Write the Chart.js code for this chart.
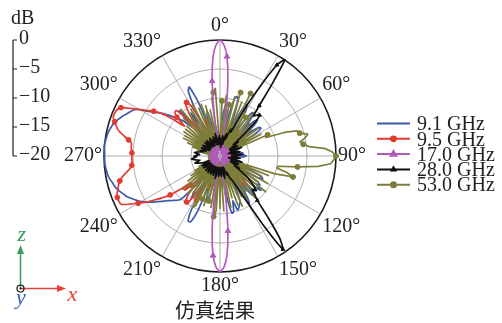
<!DOCTYPE html>
<html>
<head>
<meta charset="utf-8">
<script src="https://cdn.jsdelivr.net/npm/chart.js@4.4.1/dist/chart.umd.min.js"></script>
<style>
  html, body { margin: 0; padding: 0; background: #fff; }
  #wrap { width: 502px; height: 323px; }
</style>
</head>
<body>
<div id="wrap"><canvas id="patternChart" width="502" height="323"></canvas></div>
<script>
// azimuth in degrees, one sample every 2 degrees, clockwise from the top
const angles = Array.from({ length: 180 }, (_, i) => i * 2);

const seriesNames = ['9.1 GHz', '9.5 GHz', '17.0 GHz', '28.0 GHz', '53.0 GHz'];
const dbTicks = [0, -5, -10, -15, -20];

// normalised gain in dB, each row covers 30 degrees
const gain91 = [
  -17, -15, -13, -11.5, -12, -15, -13, -10, -9.3, -10, -14, -17, -13, -10.5, -10,
  -12, -16, -13, -11, -10.5, -12, -15, -12, -11, -12, -16, -13, -11.6, -11.5, -13,
  -17, -18, -17, -18, -18.5, -18, -18.5, -19, -18, -17, -16.5, -16, -16.5, -17, -16,
  -15.5, -16, -17, -17, -18, -18, -18.5, -17, -16, -17, -18, -17, -15, -12.5, -11.6,
  -12.5, -16, -13, -11.5, -12, -10.8, -12.5, -16, -15, -12, -11, -13, -17, -12, -10.4,
  -12, -17, -14, -11.5, -11, -10.5, -10.2, -12, -10.2, -9.9, -12, -16, -18, -18.5, -18,
  -18, -18, -19, -17, -15, -15, -17, -14, -12, -13, -15, -10, -7.6, -7.5, -9.5,
  -15, -13, -11, -13, -16, -13, -10, -9.4, -9, -8.5, -8, -7.3, -6.6, -5.8, -5.0,
  -4.3, -3.7, -3.2, -2.6, -2.2, -1.8, -1.4, -1.1, -0.9, -0.6, -0.4, -0.3, -0.2, -0.1, -0.1,
  -0.1, -0.1, 0, 0, -0.1, -0.2, -0.3, -0.5, -0.7, -1.0, -1.4, -1.8, -2.3, -2.7, -3.1,
  -4.0, -5.5, -6.6, -7.4, -8.5, -9.5, -10.5, -11.5, -13, -9.5, -12, -17, -14, -11, -14,
  -17, -11, -7.5, -7, -10, -16, -13, -12, -15, -18, -16, -15, -17, -19, -18
];
const gain95 = [
  -19, -18, -17, -18, -16, -17, -15, -16, -18, -15, -14.5, -16, -18, -16, -15,
  -14.5, -15, -14.5, -16, -18, -16, -15, -17, -18, -17, -16, -17, -18, -19, -18,
  -18, -19, -18.5, -19, -18, -17.5, -18, -19, -19, -18.5, -18, -17, -17.5, -18, -18.5,
  -18, -17.5, -17, -18, -18.5, -19, -18, -17, -18, -19, -18, -17, -16, -17, -18,
  -17, -16, -15, -16, -18, -16, -15, -14, -14.5, -13.5, -13.2, -14, -16, -18, -17,
  -16, -15, -16, -18, -17, -16, -17, -18, -17, -16, -17, -18, -19, -18, -19,
  -19, -18, -19, -17, -16, -17, -18, -16, -18, -16, -14, -15, -17, -13, -11.4,
  -12, -14, -10.5, -10.2, -10.5, -12, -16, -13, -11.5, -13, -11, -9.1, -7.8, -6.5, -5.0,
  -3.7, -2.3, -1.0, -0.9, -0.9, -1.1, -1.5, -1.8, -2.2, -2.8, -3.6, -4.3, -4.7, -4.8, -4.8,
  -4.8, -4.8, -4.7, -4.6, -4.6, -4.0, -3.0, -2.0, -1.4, -0.9, -0.4, -0.4, -0.5, -1.0, -2.5,
  -4.0, -5.2, -6.2, -7.5, -9.5, -12, -10, -9.2, -9.1, -11, -15, -13, -11, -9.5, -9.1,
  -10, -14, -17, -15, -13, -16, -18, -17, -16, -18, -19, -18, -17, -18, -19
];
const gain170 = [
  0, -0.8, -2.8, -7, -13, -18, -19, -19.5, -19, -18, -19, -19.5, -19, -18.5, -19,
  -19.5, -19, -18, -19, -19.5, -19, -18.5, -19, -19.5, -19, -18, -19, -19.5, -19, -18.5,
  -19, -19.5, -19, -18, -18.5, -19, -19.5, -19, -18.5, -19, -19.5, -19, -18, -19, -19.5,
  -19.5, -19, -18.5, -19, -19.5, -19, -18, -19, -19.5, -19, -18.5, -19, -19.5, -19, -18,
  -19, -19.5, -19, -18.5, -19, -19.5, -19, -18, -19, -19.5, -19, -18.5, -19, -19.5, -19,
  -18.5, -19, -19.5, -19, -18, -19, -19.5, -19, -18, -17, -18, -13, -7, -2.8, -0.8,
  -0.1, -0.8, -2.8, -7, -13, -18, -17, -18.5, -19, -19.5, -19, -18.5, -19, -19.5, -19,
  -18.5, -19, -19.5, -19, -18, -19, -19.5, -19, -18.5, -19, -19.5, -19, -18, -19, -19.5,
  -19, -18.5, -19, -19.5, -19, -18, -19, -19.5, -19, -18.5, -19, -19.5, -19, -18, -19,
  -19.5, -19, -18.5, -19, -19.5, -19, -18, -19, -19.5, -19, -18.5, -19, -19.5, -19, -18,
  -19, -19.5, -19, -18.5, -19, -19.5, -19, -18, -19, -19.5, -19, -18.5, -19, -19.5, -19,
  -18.5, -19, -19.5, -19, -18, -17, -18, -19, -18, -17, -18, -13, -7, -2.8, -0.8
];
const gain280 = [
  -18, -17, -18.5, -17.5, -16.5, -17, -18, -17, -16, -17, -16, -15, -15.5, -14, -10,
  -6, -1.5, 0, -5, -9, -11, -10.5, -10.2, -11.5, -15, -17, -16, -17.5, -18, -17,
  -16.5, -17, -18, -17.5, -16, -17, -18, -18.5, -17, -16.5, -17.5, -18, -17, -16, -17,
  -17.5, -18, -17, -16.5, -17, -18, -18.5, -17, -16, -17, -18, -17.5, -16.5, -17, -18,
  -17, -16, -17, -15.5, -14, -13, -12, -11.6, -12, -11, -10, -6.5, -2.5, -0.6, -6,
  -12, -14.5, -15.5, -16, -17, -16.5, -17.5, -18, -17, -16, -17, -18, -17.5, -16.5, -17,
  -18, -17, -16.5, -17.5, -18, -17, -16, -17, -18, -17.5, -16.5, -17, -18, -17, -16.5,
  -17, -18, -17.5, -16.5, -17, -18, -17, -16.5, -17, -18, -17.5, -17, -16.5, -17, -18,
  -17, -16.5, -17, -18, -17, -16.5, -16, -15.5, -16, -16.5, -16, -15.5, -15, -15.5, -16,
  -15.5, -16, -16.5, -16, -15.5, -16, -16.5, -17, -16.5, -17, -17.5, -17, -16.5, -17, -18,
  -17, -16.5, -17, -18, -17.5, -17, -16.5, -17, -18, -17, -16.5, -17, -17.5, -18, -17,
  -16.5, -17, -18, -17.5, -17, -16.5, -17, -18, -17, -16, -17, -18, -17.5, -17, -16.5
];
const gain530 = [
  -19, -10.5, -18.5, -9.5, -19, -11, -18, -9.5, -19, -8.5, -18.5, -10, -19, -8, -18,
  -11, -19, -12, -18.5, -10.5, -19, -12.5, -18, -11.5, -19, -13, -18.5, -12, -19, -13,
  -18.5, -12, -19, -11, -11.5, -8, -6, -5.7, -4.4, -5, -6, -5.5, -4.5, -1.8, -0.6,
  0, -0.4, -0.9, -3, -6.5, -9.8, -10, -8, -6.9, -10, -18, -11, -19, -12, -18.5,
  -10.5, -19, -12, -18, -10, -19, -11.5, -18.5, -12, -19, -10.5, -18, -12.5, -19, -11,
  -19, -12, -18.5, -10.5, -19, -11, -18, -12.5, -19, -11, -18.5, -12, -19, -10.5, -18,
  -11, -19, -10.5, -9.5, -18.5, -11, -19, -12, -18, -11, -19, -12, -18.5, -10.5, -10,
  -18.5, -11.5, -19, -12, -18, -11.5, -19, -12.5, -18.5, -11.4, -19, -13, -18.5, -14, -19,
  -15, -19, -16, -19, -17, -18.5, -19, -18, -19, -18.5, -19, -18, -19, -18.5, -19,
  -18.5, -19, -18, -19, -18.5, -17, -19, -16, -18.5, -15, -19, -14, -18.5, -13, -19,
  -13, -18.5, -12.5, -19, -12.5, -18, -12.3, -19, -11, -18.5, -9.5, -19, -11, -18.5, -10.5,
  -19, -10, -18.5, -11, -19, -10.5, -18, -11, -19, -11.9, -18.5, -10, -9, -8.3, -18
];

const seriesValues = [gain91, gain95, gain170, gain280, gain530];
const seriesColors = ['#3d5aa9', '#e23a2f', '#b25abd', '#111111', '#7d7d3a'];
// marker shape and size, which samples carry one, and the level below which markers are left out
const markerStyles = [
  { style: 'circle', radius: 0, every: 1, phase: 0, floor: 0 },
  { style: 'circle', radius: 2.4, every: 4, phase: 0, floor: -14 },
  { style: 'triangle', radius: 3.2, every: 5, phase: 2, floor: -12 },
  { style: 'triangle', radius: 2.2, every: 3, phase: 1, floor: -13 },
  { style: 'circle', radius: 2.5, every: 4, phase: 1, floor: -12.5 }
];
// lower order is painted last
const drawOrder = [5, 4, 2, 1, 3];

const serif = '"Liberation Serif", "Times New Roman", serif';

const datasets = seriesNames.map((name, i) => {
  const mk = markerStyles[i];
  return {
    label: name,
    data: seriesValues[i],
    borderColor: seriesColors[i],
    backgroundColor: seriesColors[i],
    borderWidth: 1.7,
    fill: false,
    tension: i === 4 ? 0 : 0.2,
    order: drawOrder[i],
    pointStyle: mk.style,
    pointBackgroundColor: seriesColors[i],
    pointBorderColor: seriesColors[i],
    pointBorderWidth: 1,
    pointRadius: ctx => {
      const v = ctx.raw;
      return mk.radius && ctx.dataIndex % mk.every === mk.phase && v > mk.floor ? mk.radius : 0;
    },
    pointHoverRadius: 0
  };
});

/*** extra drawing: dB bar, legend, axis triad, caption ***/
const decorations = {
  id: 'decorations',
  afterDraw(chart) {
    const ctx = chart.ctx;
    const r = chart.scales.r;
    const yOf = v => r.yCenter - r.getDistanceFromCenterForValue(v);
    ctx.save();

    // dB bar on the left, same spacing as the rings
    const barX = 13;
    ctx.strokeStyle = '#222';
    ctx.lineWidth = 1.2;
    ctx.beginPath();
    ctx.moveTo(barX, yOf(dbTicks[0]));
    ctx.lineTo(barX, yOf(dbTicks[dbTicks.length - 1]));
    dbTicks.forEach(v => {
      ctx.moveTo(barX, yOf(v));
      ctx.lineTo(barX + 4, yOf(v));
    });
    ctx.stroke();
    ctx.fillStyle = '#222';
    ctx.font = '20px ' + serif;
    ctx.textAlign = 'left';
    ctx.textBaseline = 'middle';
    dbTicks.forEach(v => {
      ctx.fillText(v === 0 ? '0' : '\u2212' + Math.abs(v), barX + 6, yOf(v) - 1);
    });
    ctx.fillText('dB', 11, 19);

    // legend
    const lx = 377, ly = 123.5, step = 15.3;
    chart.data.datasets.forEach((ds, i) => {
      const y = ly + i * step;
      ctx.strokeStyle = ds.borderColor;
      ctx.lineWidth = 2;
      ctx.beginPath();
      ctx.moveTo(lx, y);
      ctx.lineTo(lx + 33, y);
      ctx.stroke();
      const mk = markerStyles[i];
      if (mk.radius) {
        ctx.fillStyle = ds.borderColor;
        Chart.helpers.drawPoint(ctx, { pointStyle: mk.style, radius: mk.radius, rotation: 0, borderWidth: 1 }, lx + 16.5, y);
      }
      ctx.fillStyle = '#222';
      ctx.font = '20px ' + serif;
      ctx.textAlign = 'left';
      ctx.textBaseline = 'middle';
      ctx.fillText(ds.label, lx + 40, y + 1.5);
    });

    // coordinate triad
    const ox = 20.5, oy = 288.5;
    const arrow = (x1, y1, x2, y2, color) => {
      const a = Math.atan2(y2 - y1, x2 - x1);
      ctx.strokeStyle = color;
      ctx.fillStyle = color;
      ctx.lineWidth = 1.5;
      ctx.beginPath();
      ctx.moveTo(x1, y1);
      ctx.lineTo(x2 - 6 * Math.cos(a), y2 - 6 * Math.sin(a));
      ctx.stroke();
      ctx.beginPath();
      ctx.moveTo(x2, y2);
      ctx.lineTo(x2 - 9 * Math.cos(a) + 3.5 * Math.sin(a), y2 - 9 * Math.sin(a) - 3.5 * Math.cos(a));
      ctx.lineTo(x2 - 9 * Math.cos(a) - 3.5 * Math.sin(a), y2 - 9 * Math.sin(a) + 3.5 * Math.cos(a));
      ctx.closePath();
      ctx.fill();
    };
    arrow(ox, oy, ox, 245, '#3a9e5c');
    arrow(ox, oy, 66, oy, '#e8403a');
    ctx.strokeStyle = '#111';
    ctx.lineWidth = 1.2;
    ctx.beginPath();
    ctx.arc(ox, oy, 3.5, 0, Math.PI * 2);
    ctx.stroke();
    ctx.fillStyle = '#111';
    ctx.beginPath();
    ctx.arc(ox, oy, 1, 0, Math.PI * 2);
    ctx.fill();
    ctx.font = 'italic 22px ' + serif;
    ctx.textAlign = 'center';
    ctx.textBaseline = 'alphabetic';
    ctx.fillStyle = '#3a9e5c';
    ctx.fillText('z', 21.7, 241);
    ctx.fillStyle = '#e8403a';
    ctx.fillText('x', 72.5, 301);
    ctx.fillStyle = '#3a5fb0';
    ctx.fillText('y', 21, 304);

    // caption
    ctx.fillStyle = '#222';
    ctx.font = '20px "Noto Sans CJK SC", sans-serif';
    ctx.textAlign = 'center';
    ctx.textBaseline = 'middle';
    ctx.fillText('仿真结果', 215, 310);

    ctx.restore();
  }
};

const chart = new Chart(document.getElementById('patternChart'), {
  type: 'radar',
  data: { labels: angles, datasets: datasets },
  options: {
    responsive: false,
    animation: false,
    devicePixelRatio: 1,
    layout: { padding: { left: 38, right: 100, top: 14, bottom: 25 } },
    plugins: {
      legend: { display: false },
      tooltip: { enabled: false }
    },
    elements: { line: { borderJoinStyle: 'round' } },
    scales: {
      r: {
        min: -20,
        max: 0,
        startAngle: 0,
        ticks: { display: false, stepSize: 5 },
        grid: {
          circular: true,
          color: ctx => (ctx.tick && ctx.tick.value === 0 ? '#1a1a1a' : '#9a9a9a'),
          lineWidth: ctx => (ctx.tick && ctx.tick.value === 0 ? 1.6 : 0.8)
        },
        angleLines: {
          color: '#9a9a9a',
          lineWidth: ctx => (ctx.index % 15 === 0 ? 0.8 : 0)
        },
        pointLabels: {
          padding: 2,
          color: '#222',
          font: { family: serif, size: 20 },
          callback: (label) => (label % 30 === 0 ? label + '°' : '')
        }
      }
    }
  },
  plugins: [decorations]
});
</script>
</body>
</html>
